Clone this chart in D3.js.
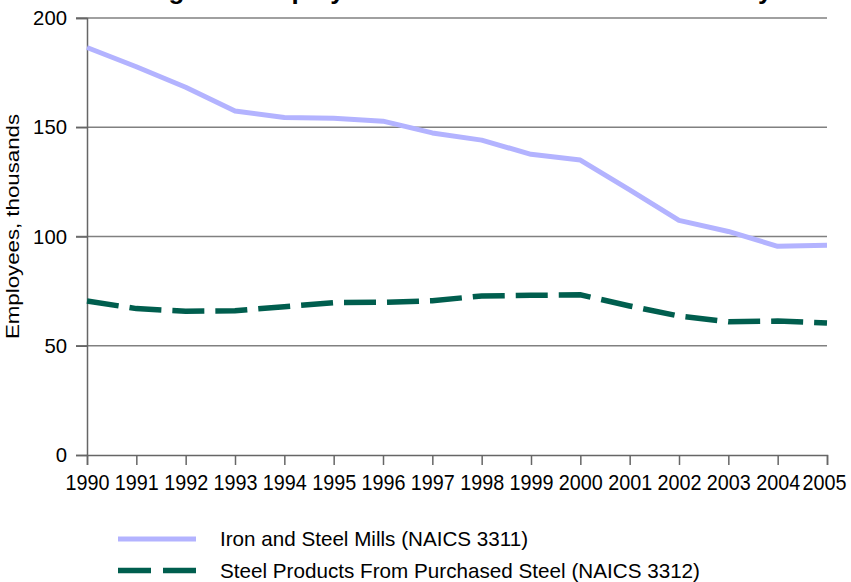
<!DOCTYPE html>
<html>
<head>
<meta charset="utf-8">
<script src="https://cdn.jsdelivr.net/npm/d3@7"></script>
<style>
  body { margin: 0; background: #fff; }
  svg { display: block; font-family: "Liberation Sans", Arial, sans-serif; }
</style>
</head>
<body>
<svg width="851" height="582"></svg>
<script>
var years = [1990, 1991, 1992, 1993, 1994, 1995, 1996, 1997, 1998, 1999, 2000, 2001, 2002, 2003, 2004, 2005];
var ironSteelMills = [186.5, 177.7, 168.3, 157.4, 154.5, 154.1, 152.8, 147.4, 144.1, 137.6, 135.0, 121.3, 107.4, 102.3, 95.5, 96.0];
var steelProducts = [70.5, 67.0, 65.8, 66.0, 67.9, 69.7, 69.9, 70.6, 72.8, 73.1, 73.3, 68.2, 63.6, 61.0, 61.3, 60.4];
var yTicks = [0, 50, 100, 150, 200];
var seriesNames = ["Iron and Steel Mills (NAICS 3311)", "Steel Products From Purchased Steel (NAICS 3312)"];

var svg = d3.select("svg"),
    margin = {top: 18, right: 24, bottom: 127, left: 87},
    width = +svg.attr("width") - margin.left - margin.right,
    height = +svg.attr("height") - margin.top - margin.bottom,
    g = svg.append("g").attr("transform", "translate(" + margin.left + "," + margin.top + ")");

// title, mostly cut off at the top of the picture (as in the original)
svg.append("text")
    .attr("x", 438)
    .attr("y", -1)
    .attr("text-anchor", "middle")
    .attr("font-size", 26)
    .attr("font-weight", "bold")
    .text("Changes in Employment in the Iron and Steel Industry");

var x = d3.scaleLinear().domain([1990, 2005]).range([0, width]);
var y = d3.scaleLinear().domain([0, 200]).range([height, 0]);

// gridlines
g.append("g")
  .selectAll("line")
  .data(yTicks.filter(function(d) { return d > 0; }))
  .enter().append("line")
    .attr("x1", -11).attr("x2", width)
    .attr("y1", function(d) { return y(d); })
    .attr("y2", function(d) { return y(d); })
    .attr("stroke", "#808080")
    .attr("stroke-width", 1.5);

var yAxis = g.append("g")
    .call(d3.axisLeft(y).tickValues(yTicks).tickSize(11).tickPadding(9));
yAxis.select(".domain").attr("stroke", "#666").attr("stroke-width", 1.5);
yAxis.selectAll(".tick line").attr("stroke", "#666").attr("stroke-width", 1.5);
yAxis.selectAll("text").attr("font-size", 21).attr("fill", "#000")
    .attr("font-family", "Liberation Sans, Arial, sans-serif")
    .attr("textLength", function(d) { return String(d).length * 11.3; })
    .attr("lengthAdjust", "spacingAndGlyphs");

var xAxis = g.append("g")
    .attr("transform", "translate(0," + height + ")")
    .call(d3.axisBottom(x).tickValues(years).tickFormat(d3.format("d")).tickSize(10).tickPadding(9));
xAxis.select(".domain").attr("stroke", "#666").attr("stroke-width", 1.5);
xAxis.selectAll(".tick line").attr("stroke", "#666").attr("stroke-width", 1.5);
xAxis.selectAll("text").attr("font-size", 22).attr("fill", "#000")
    .attr("font-family", "Liberation Sans, Arial, sans-serif")
    .attr("textLength", 44)
    .attr("lengthAdjust", "spacingAndGlyphs")
    .attr("dx", function(d) { return d === 2005 ? -3 : 0; });

g.append("text")
    .attr("transform", "rotate(-90)")
    .attr("x", -height / 2 + 10)
    .attr("y", -68)
    .attr("text-anchor", "middle")
    .attr("font-size", 18)
    .attr("textLength", 225)
    .attr("lengthAdjust", "spacingAndGlyphs")
    .text("Employees, thousands");

var line = d3.line()
    .x(function(d, i) { return x(years[i]); })
    .y(function(d) { return y(d); });

g.append("path")
    .datum(ironSteelMills)
    .attr("fill", "none")
    .attr("stroke", "#b3b3ff")
    .attr("stroke-width", 5)
    .attr("stroke-linejoin", "round")
    .attr("d", line);

g.append("path")
    .datum(steelProducts)
    .attr("fill", "none")
    .attr("stroke", "#005e4e")
    .attr("stroke-width", 5.5)
    .attr("stroke-dasharray", "32,11")
    .attr("d", line);

// legend
var legend = svg.append("g").attr("transform", "translate(118,539)");
var styles = [
  {stroke: "#b3b3ff", width: 5, dash: null},
  {stroke: "#005e4e", width: 5.5, dash: "33,12"}
];
seriesNames.forEach(function(name, i) {
  var row = legend.append("g").attr("transform", "translate(0," + (i * 31.5) + ")");
  row.append("line")
    .attr("x1", 0).attr("x2", 78)
    .attr("stroke", styles[i].stroke)
    .attr("stroke-width", styles[i].width)
    .attr("stroke-dasharray", styles[i].dash);
  row.append("text")
    .attr("x", 102)
    .attr("y", 7)
    .attr("font-size", 21)
    .attr("textLength", i === 0 ? 308 : 480)
    .attr("lengthAdjust", "spacingAndGlyphs")
    .text(name);
});
</script>
</body>
</html>
